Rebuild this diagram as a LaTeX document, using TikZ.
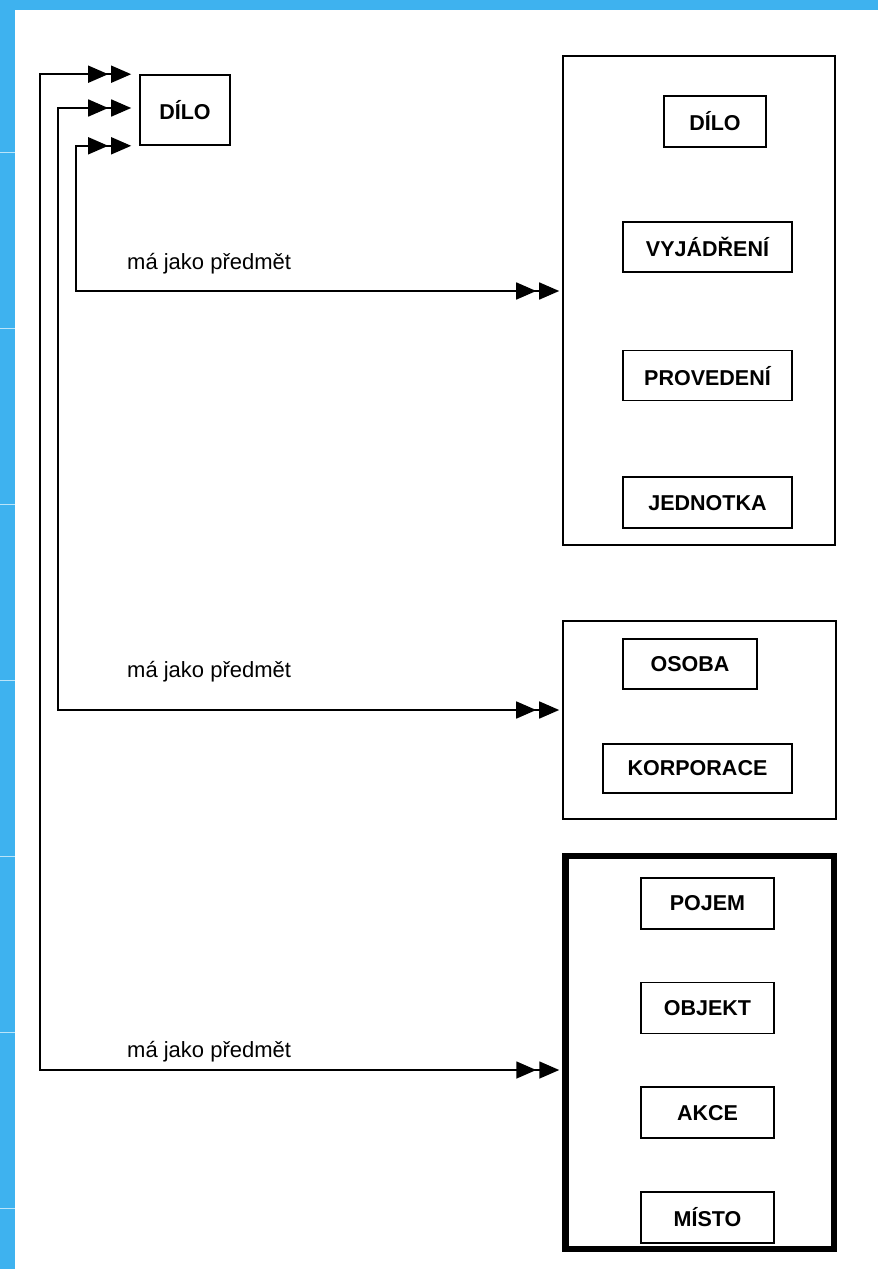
\documentclass[tikz,border=0pt]{standalone}
\usepackage{fontspec}
\setmainfont{Liberation Sans}
\usepackage{xcolor}
\usepackage{tikz}
\usetikzlibrary{arrows.meta, positioning, calc}
\definecolor{panel}{RGB}{62,178,239}

\begin{document}
\begin{tikzpicture}[
    x=1pt, y=-1pt,
    box/.style={draw, line width=1.6pt, inner sep=0pt, minimum height=50pt, font=\fontsize{21.5}{24}\selectfont\bfseries},
    group/.style={draw, line width=1.6pt, inner sep=0pt},
    lbl/.style={inner sep=0pt, anchor=base west, font=\fontsize{22}{26}\selectfont},
    >={Triangle[length=20pt,width=17pt,sep=3pt]},
    link/.style={line width=1.6pt, <<->>}
]
\useasboundingbox (0,0) rectangle (878,1269);

% Frame
\fill[panel] (0,0) rectangle (878,1269);
\fill[white] (15,10) rectangle (878,1269);
\foreach \yy in {152,328,...,1208}
    \draw[panel!35!white, line width=1pt] (0,\yy) -- (15,\yy);

% Source
\node[box, minimum width=90pt, minimum height=70pt] (dilo) at (185,110) {DÍLO};

% Group 1
\node[group, minimum width=272pt, minimum height=489pt] (grp1) at (699,300.5) {};
\node[box, minimum width=102pt, minimum height=51pt] (dilo1) at (715,121.5) {DÍLO};
\node[box, minimum width=169pt] (vyj) at (707.5,247) {VYJÁDŘENÍ};
\node[box, minimum width=169pt, below=77pt of vyj] (prov) {PROVEDENÍ};
\node[box, minimum width=169pt, minimum height=51pt, below=75pt of prov] (jedn) {JEDNOTKA};

% Group 2
\node[group, minimum width=273pt, minimum height=198pt] (grp2) at (699.5,720) {};
\node[box, minimum width=134pt] (osoba) at (690,664) {OSOBA};
\node[box, minimum width=189pt, minimum height=49pt] (korp) at (697.5,768.5) {KORPORACE};

% Group 3
\node[group, line width=6.5pt, minimum width=268.5pt, minimum height=393pt] (grp3) at (699.75,1052.5) {};
\node[box, minimum width=133pt, minimum height=51pt] (pojem) at (707.5,903.5) {POJEM};
\node[box, minimum width=133pt, minimum height=51pt, below=52pt of pojem] (objekt) {OBJEKT};
\node[box, minimum width=133pt, minimum height=51pt, below=52pt of objekt] (akce) {AKCE};
\node[box, minimum width=133pt, minimum height=51pt, below=52pt of akce] (misto) {MÍSTO};

% Labels
\node[lbl] (has1) at (127,269) {má jako předmět};
\node[lbl] (has2) at (127,677) {má jako předmět};
\node[lbl] (has3) at (127,1057) {má jako předmět};

% Links
\draw[link] ([xshift=-5pt]dilo.north west) -| (40,1070) -- ($(grp3.west)+(0,17.5)$);
\draw[link] ([xshift=-5pt, yshift=2pt]dilo.west) -| (58,710) -- ($(grp2.west)+(0,-10)$);
\draw[link] ([xshift=-5pt]dilo.south west) -| (76,291) -- ($(grp1.west)+(0,-9.5)$);

\end{tikzpicture}
\end{document}
